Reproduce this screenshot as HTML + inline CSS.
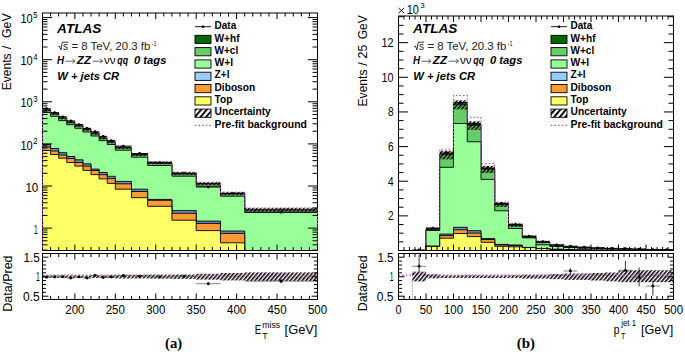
<!DOCTYPE html>
<html><head><meta charset="utf-8"><style>html,body{margin:0;padding:0;background:#fff;width:685px;height:352px;overflow:hidden}svg{display:block;font-family:"Liberation Sans",sans-serif}</style></head><body><svg width="685" height="352" viewBox="0 0 685 352"><defs><pattern id="hatch" patternUnits="userSpaceOnUse" width="3" height="3" patternTransform="rotate(40)"><rect x="0" y="0" width="1.55" height="3" fill="#000"/></pattern><pattern id="hatchL" patternUnits="userSpaceOnUse" width="4.3" height="4.3" patternTransform="rotate(40)"><rect x="0" y="0" width="1.9" height="4.3" fill="#000"/></pattern></defs><clipPath id="cl"><rect x="42.5" y="13" width="275" height="237.5"/></clipPath><clipPath id="clr"><rect x="42.5" y="253.5" width="275" height="46"/></clipPath><g clip-path="url(#cl)"><path d="M42.5,255.5 L42.5,109.8 L50.59,109.8 L50.59,113.6 L58.68,113.6 L58.68,117.9 L66.76,117.9 L66.76,122 L74.85,122 L74.85,125.6 L82.94,125.6 L82.94,129.3 L91.03,129.3 L91.03,133.3 L99.12,133.3 L99.12,137.9 L107.21,137.9 L107.21,141.8 L115.29,141.8 L115.29,147.5 L131.47,147.5 L131.47,154.5 L147.65,154.5 L147.65,162.8 L171.91,162.8 L171.91,173.5 L196.18,173.5 L196.18,183.5 L220.44,183.5 L220.44,193.5 L244.71,193.5 L244.71,209.7 L317.5,209.7 L317.5,255.5 Z" fill="#006600" stroke="#000" stroke-width="0.7"/><path d="M42.5,255.5 L42.5,110.2 L50.59,110.2 L50.59,114 L58.68,114 L58.68,118.3 L66.76,118.3 L66.76,122.4 L74.85,122.4 L74.85,126 L82.94,126 L82.94,129.7 L91.03,129.7 L91.03,133.7 L99.12,133.7 L99.12,138.3 L107.21,138.3 L107.21,142.2 L115.29,142.2 L115.29,147.9 L131.47,147.9 L131.47,154.9 L147.65,154.9 L147.65,163.2 L171.91,163.2 L171.91,173.9 L196.18,173.9 L196.18,183.9 L220.44,183.9 L220.44,193.9 L244.71,193.9 L244.71,210.1 L317.5,210.1 L317.5,255.5 Z" fill="#66CC66" stroke="#000" stroke-width="0.6"/><path d="M42.5,255.5 L42.5,112.5 L50.59,112.5 L50.59,116.3 L58.68,116.3 L58.68,120.6 L66.76,120.6 L66.76,124.7 L74.85,124.7 L74.85,128.3 L82.94,128.3 L82.94,132 L91.03,132 L91.03,136 L99.12,136 L99.12,140.6 L107.21,140.6 L107.21,144.5 L115.29,144.5 L115.29,150.2 L131.47,150.2 L131.47,157.2 L147.65,157.2 L147.65,165.5 L171.91,165.5 L171.91,176.2 L196.18,176.2 L196.18,186.2 L220.44,186.2 L220.44,196.2 L244.71,196.2 L244.71,212.4 L317.5,212.4 L317.5,255.5 Z" fill="#99FF99" stroke="#000" stroke-width="0.9"/><path d="M42.5,255.5 L42.5,144.5 L50.59,144.5 L50.59,148.5 L58.68,148.5 L58.68,152.7 L66.76,152.7 L66.76,156.5 L74.85,156.5 L74.85,159.8 L82.94,159.8 L82.94,163.8 L91.03,163.8 L91.03,169.1 L99.12,169.1 L99.12,172.5 L107.21,172.5 L107.21,176.3 L115.29,176.3 L115.29,181.4 L131.47,181.4 L131.47,189.2 L147.65,189.2 L147.65,199.4 L171.91,199.4 L171.91,210.6 L196.18,210.6 L196.18,221.1 L220.44,221.1 L220.44,231 L244.71,231 L244.71,262 L317.5,262 L317.5,255.5 Z" fill="#6A90C6" stroke="#000" stroke-width="0.9"/><path d="M42.5,255.5 L42.5,147 L50.59,147 L50.59,151 L58.68,151 L58.68,155 L66.76,155 L66.76,158.5 L74.85,158.5 L74.85,162.4 L82.94,162.4 L82.94,166.1 L91.03,166.1 L91.03,170.5 L99.12,170.5 L99.12,174.7 L107.21,174.7 L107.21,178.6 L115.29,178.6 L115.29,183.8 L131.47,183.8 L131.47,191.5 L147.65,191.5 L147.65,200.3 L171.91,200.3 L171.91,213.3 L196.18,213.3 L196.18,223.4 L220.44,223.4 L220.44,233.4 L244.71,233.4 L244.71,263 L317.5,263 L317.5,255.5 Z" fill="#FF9933" stroke="#000" stroke-width="0.9"/><path d="M42.5,255.5 L42.5,150.5 L50.59,150.5 L50.59,154.5 L58.68,154.5 L58.68,158.2 L66.76,158.2 L66.76,162.5 L74.85,162.5 L74.85,166.1 L82.94,166.1 L82.94,170.4 L91.03,170.4 L91.03,174.6 L99.12,174.6 L99.12,178.9 L107.21,178.9 L107.21,183.4 L115.29,183.4 L115.29,189.2 L131.47,189.2 L131.47,197.7 L147.65,197.7 L147.65,206.3 L171.91,206.3 L171.91,220.2 L196.18,220.2 L196.18,230.6 L220.44,230.6 L220.44,242.8 L244.71,242.8 L244.71,264 L317.5,264 L317.5,255.5 Z" fill="#FFFF66" stroke="#000" stroke-width="0.9"/><rect x="42.5" y="108.3" width="8.09" height="3" fill="url(#hatch)"/><rect x="50.59" y="112.1" width="8.09" height="3" fill="url(#hatch)"/><rect x="58.68" y="116.4" width="8.09" height="3" fill="url(#hatch)"/><rect x="66.76" y="120.5" width="8.09" height="3" fill="url(#hatch)"/><rect x="74.85" y="124.1" width="8.09" height="3" fill="url(#hatch)"/><rect x="82.94" y="127.8" width="8.09" height="3" fill="url(#hatch)"/><rect x="91.03" y="131.8" width="8.09" height="3" fill="url(#hatch)"/><rect x="99.12" y="136.4" width="8.09" height="3" fill="url(#hatch)"/><rect x="107.21" y="140.3" width="8.09" height="3" fill="url(#hatch)"/><rect x="115.29" y="146" width="16.18" height="3" fill="url(#hatch)"/><rect x="131.47" y="153" width="16.18" height="3" fill="url(#hatch)"/><rect x="147.65" y="161.3" width="24.26" height="3" fill="url(#hatch)"/><rect x="171.91" y="171.8" width="24.26" height="3.4" fill="url(#hatch)"/><rect x="196.18" y="181.8" width="24.26" height="3.4" fill="url(#hatch)"/><rect x="220.44" y="191.8" width="24.26" height="3.4" fill="url(#hatch)"/><rect x="244.71" y="207.7" width="72.79" height="4" fill="url(#hatch)"/><path d="M42.5,255.5 L42.5,108.8 L50.59,108.8 L50.59,112.6 L58.68,112.6 L58.68,116.9 L66.76,116.9 L66.76,121 L74.85,121 L74.85,124.6 L82.94,124.6 L82.94,128.3 L91.03,128.3 L91.03,132.3 L99.12,132.3 L99.12,136.9 L107.21,136.9 L107.21,140.8 L115.29,140.8 L115.29,146.5 L131.47,146.5 L131.47,153.5 L147.65,153.5 L147.65,161.8 L171.91,161.8 L171.91,172.5 L196.18,172.5 L196.18,182.5 L220.44,182.5 L220.44,192.5 L244.71,192.5 L244.71,208.7 L317.5,208.7 L317.5,255.5" fill="none" stroke="#C040C0" stroke-width="1.1" stroke-dasharray="1.5,2.1"/><line x1="42.5" y1="108.8" x2="50.59" y2="108.8" stroke="#000" stroke-width="0.9"/><line x1="46.54" y1="108.5" x2="46.54" y2="109.1" stroke="#000" stroke-width="0.9"/><circle cx="46.54" cy="108.8" r="1.45" fill="#000"/><line x1="50.59" y1="112.6" x2="58.68" y2="112.6" stroke="#000" stroke-width="0.9"/><line x1="54.63" y1="112.3" x2="54.63" y2="112.9" stroke="#000" stroke-width="0.9"/><circle cx="54.63" cy="112.6" r="1.45" fill="#000"/><line x1="58.68" y1="116.9" x2="66.76" y2="116.9" stroke="#000" stroke-width="0.9"/><line x1="62.72" y1="116.6" x2="62.72" y2="117.2" stroke="#000" stroke-width="0.9"/><circle cx="62.72" cy="116.9" r="1.45" fill="#000"/><line x1="66.76" y1="121" x2="74.85" y2="121" stroke="#000" stroke-width="0.9"/><line x1="70.81" y1="120.7" x2="70.81" y2="121.3" stroke="#000" stroke-width="0.9"/><circle cx="70.81" cy="121" r="1.45" fill="#000"/><line x1="74.85" y1="124.6" x2="82.94" y2="124.6" stroke="#000" stroke-width="0.9"/><line x1="78.9" y1="124.3" x2="78.9" y2="124.9" stroke="#000" stroke-width="0.9"/><circle cx="78.9" cy="124.6" r="1.45" fill="#000"/><line x1="82.94" y1="128.5" x2="91.03" y2="128.5" stroke="#000" stroke-width="0.9"/><line x1="86.99" y1="128.2" x2="86.99" y2="128.8" stroke="#000" stroke-width="0.9"/><circle cx="86.99" cy="128.5" r="1.45" fill="#000"/><line x1="91.03" y1="131.8" x2="99.12" y2="131.8" stroke="#000" stroke-width="0.9"/><line x1="95.07" y1="131.5" x2="95.07" y2="132.1" stroke="#000" stroke-width="0.9"/><circle cx="95.07" cy="131.8" r="1.45" fill="#000"/><line x1="99.12" y1="136.4" x2="107.21" y2="136.4" stroke="#000" stroke-width="0.9"/><line x1="103.16" y1="136.1" x2="103.16" y2="136.7" stroke="#000" stroke-width="0.9"/><circle cx="103.16" cy="136.4" r="1.45" fill="#000"/><line x1="107.21" y1="140.6" x2="115.29" y2="140.6" stroke="#000" stroke-width="0.9"/><line x1="111.25" y1="140.3" x2="111.25" y2="140.9" stroke="#000" stroke-width="0.9"/><circle cx="111.25" cy="140.6" r="1.45" fill="#000"/><line x1="115.29" y1="146.1" x2="131.47" y2="146.1" stroke="#000" stroke-width="0.9"/><line x1="123.38" y1="145.8" x2="123.38" y2="146.4" stroke="#000" stroke-width="0.9"/><circle cx="123.38" cy="146.1" r="1.45" fill="#000"/><line x1="131.47" y1="153.5" x2="147.65" y2="153.5" stroke="#000" stroke-width="0.9"/><line x1="139.56" y1="153.2" x2="139.56" y2="153.8" stroke="#000" stroke-width="0.9"/><circle cx="139.56" cy="153.5" r="1.45" fill="#000"/><line x1="147.65" y1="162.8" x2="171.91" y2="162.8" stroke="#000" stroke-width="0.9"/><line x1="159.78" y1="162.5" x2="159.78" y2="163.1" stroke="#000" stroke-width="0.9"/><circle cx="159.78" cy="162.8" r="1.45" fill="#000"/><line x1="171.91" y1="173.2" x2="196.18" y2="173.2" stroke="#000" stroke-width="0.9"/><line x1="184.04" y1="172.9" x2="184.04" y2="173.5" stroke="#000" stroke-width="0.9"/><circle cx="184.04" cy="173.2" r="1.45" fill="#000"/><line x1="196.18" y1="187.1" x2="220.44" y2="187.1" stroke="#000" stroke-width="0.9"/><line x1="208.31" y1="186.8" x2="208.31" y2="187.4" stroke="#000" stroke-width="0.9"/><circle cx="208.31" cy="187.1" r="1.45" fill="#000"/><line x1="220.44" y1="193.4" x2="244.71" y2="193.4" stroke="#000" stroke-width="0.9"/><line x1="232.57" y1="193.1" x2="232.57" y2="193.7" stroke="#000" stroke-width="0.9"/><circle cx="232.57" cy="193.4" r="1.45" fill="#000"/><line x1="244.71" y1="212.3" x2="317.5" y2="212.3" stroke="#000" stroke-width="0.9"/><line x1="281.1" y1="212" x2="281.1" y2="212.6" stroke="#000" stroke-width="0.9"/><circle cx="281.1" cy="212.3" r="1.45" fill="#000"/></g><g clip-path="url(#clr)"><rect x="42.5" y="275.45" width="8.09" height="2.5" fill="url(#hatch)"/><rect x="50.59" y="275.45" width="8.09" height="2.5" fill="url(#hatch)"/><rect x="58.68" y="275.45" width="8.09" height="2.5" fill="url(#hatch)"/><rect x="66.76" y="275.45" width="8.09" height="2.5" fill="url(#hatch)"/><rect x="74.85" y="275.45" width="8.09" height="2.5" fill="url(#hatch)"/><rect x="82.94" y="275.45" width="8.09" height="2.5" fill="url(#hatch)"/><rect x="91.03" y="275.45" width="8.09" height="2.5" fill="url(#hatch)"/><rect x="99.12" y="275.45" width="8.09" height="2.5" fill="url(#hatch)"/><rect x="107.21" y="275.45" width="8.09" height="2.5" fill="url(#hatch)"/><rect x="115.29" y="274.94" width="16.18" height="3.51" fill="url(#hatch)"/><rect x="131.47" y="274.94" width="16.18" height="3.51" fill="url(#hatch)"/><rect x="147.65" y="274.75" width="24.26" height="3.9" fill="url(#hatch)"/><rect x="171.91" y="274.56" width="24.26" height="4.29" fill="url(#hatch)"/><rect x="196.18" y="273.77" width="24.26" height="5.85" fill="url(#hatch)"/><rect x="220.44" y="273" width="24.26" height="7.41" fill="url(#hatch)"/><rect x="244.71" y="272.41" width="72.79" height="8.58" fill="url(#hatch)"/><path d="M42.5,275 L50.59,275 L50.59,275 L58.68,275 L58.68,275 L66.76,275 L66.76,275 L74.85,275 L74.85,275 L82.94,275 L82.94,275 L91.03,275 L91.03,275 L99.12,275 L99.12,275 L107.21,275 L107.21,275 L115.29,275 L115.29,275 L131.47,275 L131.47,275 L147.65,275 L147.65,275 L171.91,275 L171.91,276 L196.18,276 L196.18,276 L220.44,276 L220.44,276 L244.71,276 L244.71,276 L317.5,276" fill="none" stroke="#C040C0" stroke-width="1.1" stroke-dasharray="1.5,2.1"/><line x1="42.5" y1="277.3" x2="50.59" y2="277.3" stroke="#666" stroke-width="0.8"/><line x1="46.54" y1="276.7" x2="46.54" y2="277.9" stroke="#222" stroke-width="0.9"/><circle cx="46.54" cy="277.3" r="1.45" fill="#000"/><line x1="50.59" y1="277" x2="58.68" y2="277" stroke="#666" stroke-width="0.8"/><line x1="54.63" y1="276.4" x2="54.63" y2="277.6" stroke="#222" stroke-width="0.9"/><circle cx="54.63" cy="277" r="1.45" fill="#000"/><line x1="58.68" y1="276.8" x2="66.76" y2="276.8" stroke="#666" stroke-width="0.8"/><line x1="62.72" y1="276.2" x2="62.72" y2="277.4" stroke="#222" stroke-width="0.9"/><circle cx="62.72" cy="276.8" r="1.45" fill="#000"/><line x1="66.76" y1="278.1" x2="74.85" y2="278.1" stroke="#666" stroke-width="0.8"/><line x1="70.81" y1="277.5" x2="70.81" y2="278.7" stroke="#222" stroke-width="0.9"/><circle cx="70.81" cy="278.1" r="1.45" fill="#000"/><line x1="74.85" y1="276.9" x2="82.94" y2="276.9" stroke="#666" stroke-width="0.8"/><line x1="78.9" y1="276.3" x2="78.9" y2="277.5" stroke="#222" stroke-width="0.9"/><circle cx="78.9" cy="276.9" r="1.45" fill="#000"/><line x1="82.94" y1="278.1" x2="91.03" y2="278.1" stroke="#666" stroke-width="0.8"/><line x1="86.99" y1="277.5" x2="86.99" y2="278.7" stroke="#222" stroke-width="0.9"/><circle cx="86.99" cy="278.1" r="1.45" fill="#000"/><line x1="91.03" y1="275.4" x2="99.12" y2="275.4" stroke="#666" stroke-width="0.8"/><line x1="95.07" y1="274.6" x2="95.07" y2="276.2" stroke="#222" stroke-width="0.9"/><circle cx="95.07" cy="275.4" r="1.45" fill="#000"/><line x1="99.12" y1="277.5" x2="107.21" y2="277.5" stroke="#666" stroke-width="0.8"/><line x1="103.16" y1="276.7" x2="103.16" y2="278.3" stroke="#222" stroke-width="0.9"/><circle cx="103.16" cy="277.5" r="1.45" fill="#000"/><line x1="107.21" y1="277" x2="115.29" y2="277" stroke="#666" stroke-width="0.8"/><line x1="111.25" y1="276.2" x2="111.25" y2="277.8" stroke="#222" stroke-width="0.9"/><circle cx="111.25" cy="277" r="1.45" fill="#000"/><line x1="115.29" y1="275.5" x2="131.47" y2="275.5" stroke="#666" stroke-width="0.8"/><line x1="123.38" y1="274.7" x2="123.38" y2="276.3" stroke="#222" stroke-width="0.9"/><circle cx="123.38" cy="275.5" r="1.45" fill="#000"/><line x1="131.47" y1="276.5" x2="147.65" y2="276.5" stroke="#666" stroke-width="0.8"/><line x1="139.56" y1="275.5" x2="139.56" y2="277.5" stroke="#222" stroke-width="0.9"/><circle cx="139.56" cy="276.5" r="1.45" fill="#000"/><line x1="147.65" y1="276.9" x2="171.91" y2="276.9" stroke="#666" stroke-width="0.8"/><line x1="159.78" y1="275.9" x2="159.78" y2="277.9" stroke="#222" stroke-width="0.9"/><circle cx="159.78" cy="276.9" r="1.45" fill="#000"/><line x1="171.91" y1="276.5" x2="196.18" y2="276.5" stroke="#666" stroke-width="0.8"/><line x1="184.04" y1="275" x2="184.04" y2="278" stroke="#222" stroke-width="0.9"/><circle cx="184.04" cy="276.5" r="1.45" fill="#000"/><line x1="196.18" y1="283.7" x2="220.44" y2="283.7" stroke="#666" stroke-width="0.8"/><line x1="208.31" y1="282.2" x2="208.31" y2="285.2" stroke="#222" stroke-width="0.9"/><circle cx="208.31" cy="283.7" r="1.45" fill="#000"/><line x1="244.71" y1="281.2" x2="317.5" y2="281.2" stroke="#666" stroke-width="0.8"/><line x1="281.1" y1="279.2" x2="281.1" y2="283.2" stroke="#222" stroke-width="0.9"/><circle cx="281.1" cy="281.2" r="1.45" fill="#000"/></g><rect x="42.5" y="13" width="275" height="237.5" fill="none" stroke="#000" stroke-width="1"/><rect x="42.5" y="253.5" width="275" height="46" fill="none" stroke="#000" stroke-width="1"/><line x1="42.5" y1="108.8" x2="42.5" y2="250.5" stroke="#C040C0" stroke-width="1.1" stroke-dasharray="1.5,2.1"/><line x1="317.5" y1="208.7" x2="317.5" y2="250.5" stroke="#C040C0" stroke-width="1.1" stroke-dasharray="1.5,2.1"/><path d="M42.5,13 V16.5 M42.5,250.5 V247 M42.5,253.5 V257 M42.5,299.5 V296 M50.59,13 V16.5 M50.59,250.5 V247 M50.59,253.5 V257 M50.59,299.5 V296 M58.68,13 V16.5 M58.68,250.5 V247 M58.68,253.5 V257 M58.68,299.5 V296 M66.76,13 V16.5 M66.76,250.5 V247 M66.76,253.5 V257 M66.76,299.5 V296 M74.85,13 V19 M74.85,250.5 V244.5 M74.85,253.5 V259.5 M74.85,299.5 V293.5 M82.94,13 V16.5 M82.94,250.5 V247 M82.94,253.5 V257 M82.94,299.5 V296 M91.03,13 V16.5 M91.03,250.5 V247 M91.03,253.5 V257 M91.03,299.5 V296 M99.12,13 V16.5 M99.12,250.5 V247 M99.12,253.5 V257 M99.12,299.5 V296 M107.21,13 V16.5 M107.21,250.5 V247 M107.21,253.5 V257 M107.21,299.5 V296 M115.29,13 V19 M115.29,250.5 V244.5 M115.29,253.5 V259.5 M115.29,299.5 V293.5 M123.38,13 V16.5 M123.38,250.5 V247 M123.38,253.5 V257 M123.38,299.5 V296 M131.47,13 V16.5 M131.47,250.5 V247 M131.47,253.5 V257 M131.47,299.5 V296 M139.56,13 V16.5 M139.56,250.5 V247 M139.56,253.5 V257 M139.56,299.5 V296 M147.65,13 V16.5 M147.65,250.5 V247 M147.65,253.5 V257 M147.65,299.5 V296 M155.74,13 V19 M155.74,250.5 V244.5 M155.74,253.5 V259.5 M155.74,299.5 V293.5 M163.82,13 V16.5 M163.82,250.5 V247 M163.82,253.5 V257 M163.82,299.5 V296 M171.91,13 V16.5 M171.91,250.5 V247 M171.91,253.5 V257 M171.91,299.5 V296 M180,13 V16.5 M180,250.5 V247 M180,253.5 V257 M180,299.5 V296 M188.09,13 V16.5 M188.09,250.5 V247 M188.09,253.5 V257 M188.09,299.5 V296 M196.18,13 V19 M196.18,250.5 V244.5 M196.18,253.5 V259.5 M196.18,299.5 V293.5 M204.26,13 V16.5 M204.26,250.5 V247 M204.26,253.5 V257 M204.26,299.5 V296 M212.35,13 V16.5 M212.35,250.5 V247 M212.35,253.5 V257 M212.35,299.5 V296 M220.44,13 V16.5 M220.44,250.5 V247 M220.44,253.5 V257 M220.44,299.5 V296 M228.53,13 V16.5 M228.53,250.5 V247 M228.53,253.5 V257 M228.53,299.5 V296 M236.62,13 V19 M236.62,250.5 V244.5 M236.62,253.5 V259.5 M236.62,299.5 V293.5 M244.71,13 V16.5 M244.71,250.5 V247 M244.71,253.5 V257 M244.71,299.5 V296 M252.79,13 V16.5 M252.79,250.5 V247 M252.79,253.5 V257 M252.79,299.5 V296 M260.88,13 V16.5 M260.88,250.5 V247 M260.88,253.5 V257 M260.88,299.5 V296 M268.97,13 V16.5 M268.97,250.5 V247 M268.97,253.5 V257 M268.97,299.5 V296 M277.06,13 V19 M277.06,250.5 V244.5 M277.06,253.5 V259.5 M277.06,299.5 V293.5 M285.15,13 V16.5 M285.15,250.5 V247 M285.15,253.5 V257 M285.15,299.5 V296 M293.24,13 V16.5 M293.24,250.5 V247 M293.24,253.5 V257 M293.24,299.5 V296 M301.32,13 V16.5 M301.32,250.5 V247 M301.32,253.5 V257 M301.32,299.5 V296 M309.41,13 V16.5 M309.41,250.5 V247 M309.41,253.5 V257 M309.41,299.5 V296 M317.5,13 V19 M317.5,250.5 V244.5 M317.5,253.5 V259.5 M317.5,299.5 V293.5 M42.5,250.11 H47.5 M317.5,250.11 H312.5 M42.5,244.85 H47.5 M317.5,244.85 H312.5 M42.5,240.77 H47.5 M317.5,240.77 H312.5 M42.5,237.44 H47.5 M317.5,237.44 H312.5 M42.5,234.62 H47.5 M317.5,234.62 H312.5 M42.5,232.18 H47.5 M317.5,232.18 H312.5 M42.5,230.03 H47.5 M317.5,230.03 H312.5 M42.5,228.1 H52.1 M317.5,228.1 H307.9 M42.5,215.43 H47.5 M317.5,215.43 H312.5 M42.5,208.01 H47.5 M317.5,208.01 H312.5 M42.5,202.75 H47.5 M317.5,202.75 H312.5 M42.5,198.67 H47.5 M317.5,198.67 H312.5 M42.5,195.34 H47.5 M317.5,195.34 H312.5 M42.5,192.52 H47.5 M317.5,192.52 H312.5 M42.5,190.08 H47.5 M317.5,190.08 H312.5 M42.5,187.93 H47.5 M317.5,187.93 H312.5 M42.5,186 H52.1 M317.5,186 H307.9 M42.5,173.33 H47.5 M317.5,173.33 H312.5 M42.5,165.91 H47.5 M317.5,165.91 H312.5 M42.5,160.65 H47.5 M317.5,160.65 H312.5 M42.5,156.57 H47.5 M317.5,156.57 H312.5 M42.5,153.24 H47.5 M317.5,153.24 H312.5 M42.5,150.42 H47.5 M317.5,150.42 H312.5 M42.5,147.98 H47.5 M317.5,147.98 H312.5 M42.5,145.83 H47.5 M317.5,145.83 H312.5 M42.5,143.9 H52.1 M317.5,143.9 H307.9 M42.5,131.23 H47.5 M317.5,131.23 H312.5 M42.5,123.81 H47.5 M317.5,123.81 H312.5 M42.5,118.55 H47.5 M317.5,118.55 H312.5 M42.5,114.47 H47.5 M317.5,114.47 H312.5 M42.5,111.14 H47.5 M317.5,111.14 H312.5 M42.5,108.32 H47.5 M317.5,108.32 H312.5 M42.5,105.88 H47.5 M317.5,105.88 H312.5 M42.5,103.73 H47.5 M317.5,103.73 H312.5 M42.5,101.8 H52.1 M317.5,101.8 H307.9 M42.5,89.13 H47.5 M317.5,89.13 H312.5 M42.5,81.71 H47.5 M317.5,81.71 H312.5 M42.5,76.45 H47.5 M317.5,76.45 H312.5 M42.5,72.37 H47.5 M317.5,72.37 H312.5 M42.5,69.04 H47.5 M317.5,69.04 H312.5 M42.5,66.22 H47.5 M317.5,66.22 H312.5 M42.5,63.78 H47.5 M317.5,63.78 H312.5 M42.5,61.63 H47.5 M317.5,61.63 H312.5 M42.5,59.7 H52.1 M317.5,59.7 H307.9 M42.5,47.03 H47.5 M317.5,47.03 H312.5 M42.5,39.61 H47.5 M317.5,39.61 H312.5 M42.5,34.35 H47.5 M317.5,34.35 H312.5 M42.5,30.27 H47.5 M317.5,30.27 H312.5 M42.5,26.94 H47.5 M317.5,26.94 H312.5 M42.5,24.12 H47.5 M317.5,24.12 H312.5 M42.5,21.68 H47.5 M317.5,21.68 H312.5 M42.5,19.53 H47.5 M317.5,19.53 H312.5 M42.5,17.6 H52.1 M317.5,17.6 H307.9 M42.5,296.2 H48.5 M317.5,296.2 H311.5 M42.5,292.3 H46 M317.5,292.3 H314 M42.5,288.4 H46 M317.5,288.4 H314 M42.5,284.5 H46 M317.5,284.5 H314 M42.5,280.6 H46 M317.5,280.6 H314 M42.5,276.7 H48.5 M317.5,276.7 H311.5 M42.5,272.8 H46 M317.5,272.8 H314 M42.5,268.9 H46 M317.5,268.9 H314 M42.5,265 H46 M317.5,265 H314 M42.5,261.1 H46 M317.5,261.1 H314 M42.5,257.2 H48.5 M317.5,257.2 H311.5" stroke="#000" stroke-width="1" fill="none"/><clipPath id="cr"><rect x="398.5" y="16" width="275" height="234.5"/></clipPath><clipPath id="crr"><rect x="398.5" y="253.5" width="275" height="46"/></clipPath><g clip-path="url(#cr)"><path d="M398.5,255.5 L398.5,262 L412.25,262 L412.25,250.3 L426,250.3 L426,228.8 L439.75,228.8 L439.75,153.9 L453.5,153.9 L453.5,103.7 L467.25,103.7 L467.25,124.5 L481,124.5 L481,168.5 L494.75,168.5 L494.75,204 L508.5,204 L508.5,224.8 L522.25,224.8 L522.25,236.5 L536,236.5 L536,241.8 L549.75,241.8 L549.75,245.2 L563.5,245.2 L563.5,246.6 L577.25,246.6 L577.25,247.4 L591,247.4 L591,248 L604.75,248 L604.75,248.5 L618.5,248.5 L618.5,248.9 L632.25,248.9 L632.25,249.2 L646,249.2 L646,249.5 L659.75,249.5 L659.75,249.7 L673.5,249.7 L673.5,255.5 Z" fill="#006600" stroke="#000" stroke-width="0.7"/><path d="M398.5,255.5 L398.5,262 L412.25,262 L412.25,250.6 L426,250.6 L426,229.3 L439.75,229.3 L439.75,154.8 L453.5,154.8 L453.5,104.6 L467.25,104.6 L467.25,125.4 L481,125.4 L481,169.3 L494.75,169.3 L494.75,204.7 L508.5,204.7 L508.5,225.4 L522.25,225.4 L522.25,237 L536,237 L536,242.4 L549.75,242.4 L549.75,245.6 L563.5,245.6 L563.5,247 L577.25,247 L577.25,247.8 L591,247.8 L591,248.3 L604.75,248.3 L604.75,248.8 L618.5,248.8 L618.5,249.1 L632.25,249.1 L632.25,249.4 L646,249.4 L646,249.6 L659.75,249.6 L659.75,249.8 L673.5,249.8 L673.5,255.5 Z" fill="#66CC66" stroke="#000" stroke-width="0.6"/><path d="M398.5,255.5 L398.5,262 L412.25,262 L412.25,251 L426,251 L426,230.5 L439.75,230.5 L439.75,167.3 L453.5,167.3 L453.5,123.5 L467.25,123.5 L467.25,141.8 L481,141.8 L481,179.4 L494.75,179.4 L494.75,210.8 L508.5,210.8 L508.5,228.5 L522.25,228.5 L522.25,237.9 L536,237.9 L536,244.8 L549.75,244.8 L549.75,246.5 L563.5,246.5 L563.5,247.5 L577.25,247.5 L577.25,248.2 L591,248.2 L591,248.7 L604.75,248.7 L604.75,249.1 L618.5,249.1 L618.5,249.4 L632.25,249.4 L632.25,249.6 L646,249.6 L646,249.8 L659.75,249.8 L659.75,250 L673.5,250 L673.5,255.5 Z" fill="#99FF99" stroke="#000" stroke-width="0.9"/><path d="M398.5,255.5 L398.5,262 L412.25,262 L412.25,253 L426,253 L426,246.2 L439.75,246.2 L439.75,234.1 L453.5,234.1 L453.5,227.3 L467.25,227.3 L467.25,230.7 L481,230.7 L481,238.6 L494.75,238.6 L494.75,244.4 L508.5,244.4 L508.5,245 L522.25,245 L522.25,247.4 L536,247.4 L536,248.5 L549.75,248.5 L549.75,249.3 L563.5,249.3 L563.5,249.7 L577.25,249.7 L577.25,250 L591,250 L591,250.2 L604.75,250.2 L604.75,250.3 L618.5,250.3 L618.5,250.4 L632.25,250.4 L632.25,250.5 L646,250.5 L646,250.5 L659.75,250.5 L659.75,250.5 L673.5,250.5 L673.5,255.5 Z" fill="#6A90C6" stroke="#000" stroke-width="0.9"/><path d="M398.5,255.5 L398.5,262 L412.25,262 L412.25,253 L426,253 L426,246.3 L439.75,246.3 L439.75,235.6 L453.5,235.6 L453.5,229.8 L467.25,229.8 L467.25,233.1 L481,233.1 L481,239.5 L494.75,239.5 L494.75,245 L508.5,245 L508.5,245.5 L522.25,245.5 L522.25,247.5 L536,247.5 L536,248.6 L549.75,248.6 L549.75,249.4 L563.5,249.4 L563.5,249.8 L577.25,249.8 L577.25,250.1 L591,250.1 L591,250.3 L604.75,250.3 L604.75,250.4 L618.5,250.4 L618.5,250.5 L632.25,250.5 L632.25,250.5 L646,250.5 L646,250.5 L659.75,250.5 L659.75,250.5 L673.5,250.5 L673.5,255.5 Z" fill="#FF9933" stroke="#000" stroke-width="0.9"/><path d="M398.5,255.5 L398.5,262 L412.25,262 L412.25,253 L426,253 L426,246.4 L439.75,246.4 L439.75,238.2 L453.5,238.2 L453.5,233.5 L467.25,233.5 L467.25,236.6 L481,236.6 L481,242.3 L494.75,242.3 L494.75,246.3 L508.5,246.3 L508.5,246.8 L522.25,246.8 L522.25,247.6 L536,247.6 L536,248.6 L549.75,248.6 L549.75,249.5 L563.5,249.5 L563.5,249.9 L577.25,249.9 L577.25,250.2 L591,250.2 L591,250.4 L604.75,250.4 L604.75,250.5 L618.5,250.5 L618.5,250.5 L632.25,250.5 L632.25,250.5 L646,250.5 L646,250.5 L659.75,250.5 L659.75,250.5 L673.5,250.5 L673.5,255.5 Z" fill="#FFFF66" stroke="#000" stroke-width="0.9"/><rect x="412.25" y="249.85" width="13.75" height="1.2" fill="url(#hatch)"/><rect x="426" y="227.68" width="13.75" height="3" fill="url(#hatch)"/><rect x="439.75" y="150.6" width="13.75" height="8.8" fill="url(#hatch)"/><rect x="453.5" y="100.25" width="13.75" height="9.2" fill="url(#hatch)"/><rect x="467.25" y="121.28" width="13.75" height="8.6" fill="url(#hatch)"/><rect x="481" y="165.8" width="13.75" height="7.2" fill="url(#hatch)"/><rect x="494.75" y="202.2" width="13.75" height="4.8" fill="url(#hatch)"/><rect x="508.5" y="223.53" width="13.75" height="3.4" fill="url(#hatch)"/><rect x="522.25" y="235.6" width="13.75" height="2.4" fill="url(#hatch)"/><rect x="536" y="241.05" width="13.75" height="2" fill="url(#hatch)"/><rect x="549.75" y="244.6" width="13.75" height="1.6" fill="url(#hatch)"/><rect x="563.5" y="246.15" width="13.75" height="1.2" fill="url(#hatch)"/><rect x="577.25" y="247.03" width="13.75" height="1" fill="url(#hatch)"/><rect x="591" y="247.7" width="13.75" height="0.8" fill="url(#hatch)"/><rect x="604.75" y="248.2" width="13.75" height="0.8" fill="url(#hatch)"/><rect x="618.5" y="248.67" width="13.75" height="0.6" fill="url(#hatch)"/><rect x="632.25" y="248.97" width="13.75" height="0.6" fill="url(#hatch)"/><rect x="646" y="249.27" width="13.75" height="0.6" fill="url(#hatch)"/><rect x="659.75" y="249.47" width="13.75" height="0.6" fill="url(#hatch)"/><path d="M398.5,255.5 L398.5,262 L412.25,262 L412.25,250.8 L426,250.8 L426,227.6 L439.75,227.6 L439.75,149.3 L453.5,149.3 L453.5,95.5 L467.25,95.5 L467.25,117.3 L481,117.3 L481,163.5 L494.75,163.5 L494.75,202.3 L508.5,202.3 L508.5,223.4 L522.25,223.4 L522.25,235.5 L536,235.5 L536,241.1 L549.75,241.1 L549.75,244.5 L563.5,244.5 L563.5,246 L577.25,246 L577.25,247 L591,247 L591,247.7 L604.75,247.7 L604.75,248.3 L618.5,248.3 L618.5,248.7 L632.25,248.7 L632.25,249 L646,249 L646,249.3 L659.75,249.3 L659.75,249.5 L673.5,249.5 L673.5,255.5" fill="none" stroke="#C040C0" stroke-width="1.1" stroke-dasharray="1.5,2.1"/><line x1="412.25" y1="250" x2="426" y2="250" stroke="#000" stroke-width="0.9"/><circle cx="419.12" cy="250" r="1.45" fill="#000"/><line x1="426" y1="228.3" x2="439.75" y2="228.3" stroke="#000" stroke-width="0.9"/><circle cx="432.88" cy="228.3" r="1.45" fill="#000"/><line x1="439.75" y1="153" x2="453.5" y2="153" stroke="#000" stroke-width="0.9"/><circle cx="446.62" cy="153" r="1.45" fill="#000"/><line x1="453.5" y1="102.5" x2="467.25" y2="102.5" stroke="#000" stroke-width="0.9"/><circle cx="460.38" cy="102.5" r="1.45" fill="#000"/><line x1="467.25" y1="123.5" x2="481" y2="123.5" stroke="#000" stroke-width="0.9"/><circle cx="474.12" cy="123.5" r="1.45" fill="#000"/><line x1="481" y1="168" x2="494.75" y2="168" stroke="#000" stroke-width="0.9"/><circle cx="487.88" cy="168" r="1.45" fill="#000"/><line x1="494.75" y1="203.5" x2="508.5" y2="203.5" stroke="#000" stroke-width="0.9"/><circle cx="501.62" cy="203.5" r="1.45" fill="#000"/><line x1="508.5" y1="224.5" x2="522.25" y2="224.5" stroke="#000" stroke-width="0.9"/><circle cx="515.38" cy="224.5" r="1.45" fill="#000"/><line x1="522.25" y1="236.3" x2="536" y2="236.3" stroke="#000" stroke-width="0.9"/><circle cx="529.12" cy="236.3" r="1.45" fill="#000"/><line x1="536" y1="241.8" x2="549.75" y2="241.8" stroke="#000" stroke-width="0.9"/><circle cx="542.88" cy="241.8" r="1.45" fill="#000"/><line x1="549.75" y1="244.9" x2="563.5" y2="244.9" stroke="#000" stroke-width="0.9"/><circle cx="556.62" cy="244.9" r="1.45" fill="#000"/><line x1="563.5" y1="246.3" x2="577.25" y2="246.3" stroke="#000" stroke-width="0.9"/><circle cx="570.38" cy="246.3" r="1.45" fill="#000"/><line x1="577.25" y1="247.2" x2="591" y2="247.2" stroke="#000" stroke-width="0.9"/><circle cx="584.12" cy="247.2" r="1.45" fill="#000"/><line x1="591" y1="247.9" x2="604.75" y2="247.9" stroke="#000" stroke-width="0.9"/><circle cx="597.88" cy="247.9" r="1.45" fill="#000"/><line x1="604.75" y1="248.4" x2="618.5" y2="248.4" stroke="#000" stroke-width="0.9"/><circle cx="611.62" cy="248.4" r="1.45" fill="#000"/><line x1="618.5" y1="248.7" x2="632.25" y2="248.7" stroke="#000" stroke-width="0.9"/><circle cx="625.38" cy="248.7" r="1.45" fill="#000"/><line x1="632.25" y1="249.1" x2="646" y2="249.1" stroke="#000" stroke-width="0.9"/><circle cx="639.12" cy="249.1" r="1.45" fill="#000"/><line x1="646" y1="249.6" x2="659.75" y2="249.6" stroke="#000" stroke-width="0.9"/><circle cx="652.88" cy="249.6" r="1.45" fill="#000"/><line x1="659.75" y1="249.7" x2="673.5" y2="249.7" stroke="#000" stroke-width="0.9"/><circle cx="666.62" cy="249.7" r="1.45" fill="#000"/></g><g clip-path="url(#crr)"><rect x="412.25" y="271.7" width="13.75" height="9.7" fill="url(#hatch)"/><rect x="426" y="274.3" width="13.75" height="4" fill="url(#hatch)"/><rect x="439.75" y="275.4" width="13.75" height="2.6" fill="url(#hatch)"/><rect x="453.5" y="275.4" width="13.75" height="2.6" fill="url(#hatch)"/><rect x="467.25" y="275.4" width="13.75" height="2.6" fill="url(#hatch)"/><rect x="481" y="275.4" width="13.75" height="2.6" fill="url(#hatch)"/><rect x="494.75" y="275.4" width="13.75" height="2.6" fill="url(#hatch)"/><rect x="508.5" y="275.4" width="13.75" height="2.6" fill="url(#hatch)"/><rect x="522.25" y="274.8" width="13.75" height="3.8" fill="url(#hatch)"/><rect x="536" y="274.8" width="13.75" height="3.8" fill="url(#hatch)"/><rect x="549.75" y="274.2" width="13.75" height="5" fill="url(#hatch)"/><rect x="563.5" y="273.5" width="13.75" height="6.4" fill="url(#hatch)"/><rect x="577.25" y="273.5" width="13.75" height="6.4" fill="url(#hatch)"/><rect x="591" y="273" width="13.75" height="7.5" fill="url(#hatch)"/><rect x="604.75" y="272.5" width="13.75" height="8.8" fill="url(#hatch)"/><rect x="618.5" y="270.2" width="13.75" height="12" fill="url(#hatch)"/><rect x="632.25" y="270.2" width="13.75" height="12" fill="url(#hatch)"/><rect x="646" y="270.2" width="13.75" height="12" fill="url(#hatch)"/><rect x="659.75" y="270.2" width="13.75" height="12" fill="url(#hatch)"/><path d="M398.5,275.14 L412.25,275.14 L412.25,272.2 L426,272.2 L426,275.14 L439.75,275.14 L439.75,275.14 L453.5,275.14 L453.5,275.14 L467.25,275.14 L467.25,275.14 L481,275.14 L481,275.14 L494.75,275.14 L494.75,275.14 L508.5,275.14 L508.5,275.14 L522.25,275.14 L522.25,275.14 L536,275.14 L536,275.14 L549.75,275.14 L549.75,275.14 L563.5,275.14 L563.5,275.14 L577.25,275.14 L577.25,275.14 L591,275.14 L591,275.14 L604.75,275.14 L604.75,275.14 L618.5,275.14 L618.5,275.14 L632.25,275.14 L632.25,275.14 L646,275.14 L646,275.14 L659.75,275.14 L659.75,275.14 L673.5,275.14" fill="none" stroke="#C040C0" stroke-width="1.1" stroke-dasharray="1.5,2.1"/><line x1="412.25" y1="266.3" x2="426" y2="266.3" stroke="#666" stroke-width="0.8"/><line x1="419.12" y1="254.3" x2="419.12" y2="272.2" stroke="#222" stroke-width="0.9"/><circle cx="419.12" cy="266.3" r="1.45" fill="#000"/><line x1="563.5" y1="271" x2="577.25" y2="271" stroke="#666" stroke-width="0.8"/><line x1="570.38" y1="268.3" x2="570.38" y2="273.7" stroke="#222" stroke-width="0.9"/><circle cx="570.38" cy="271" r="1.45" fill="#000"/><line x1="618.5" y1="270.4" x2="632.25" y2="270.4" stroke="#666" stroke-width="0.8"/><line x1="625.38" y1="260.9" x2="625.38" y2="270.4" stroke="#222" stroke-width="0.9"/><circle cx="625.38" cy="270.4" r="1.45" fill="#000"/><line x1="632.25" y1="277" x2="646" y2="277" stroke="#666" stroke-width="0.8"/><line x1="639.12" y1="267.5" x2="639.12" y2="286.5" stroke="#222" stroke-width="0.9"/><circle cx="639.12" cy="277" r="1.45" fill="#000"/><line x1="646" y1="286" x2="659.75" y2="286" stroke="#666" stroke-width="0.8"/><line x1="652.88" y1="281" x2="652.88" y2="295.6" stroke="#222" stroke-width="0.9"/><circle cx="652.88" cy="286" r="1.45" fill="#000"/></g><rect x="398.5" y="16" width="275" height="234.5" fill="none" stroke="#000" stroke-width="1"/><rect x="398.5" y="253.5" width="275" height="46" fill="none" stroke="#000" stroke-width="1"/><line x1="673.5" y1="249.5" x2="673.5" y2="250.5" stroke="#C040C0" stroke-width="1.1" stroke-dasharray="1.5,2.1"/><path d="M398.5,16 V22 M398.5,250.5 V244.5 M398.5,253.5 V259.5 M398.5,299.5 V293.5 M404,16 V19.5 M404,250.5 V247 M404,253.5 V257 M404,299.5 V296 M409.5,16 V19.5 M409.5,250.5 V247 M409.5,253.5 V257 M409.5,299.5 V296 M415,16 V19.5 M415,250.5 V247 M415,253.5 V257 M415,299.5 V296 M420.5,16 V19.5 M420.5,250.5 V247 M420.5,253.5 V257 M420.5,299.5 V296 M426,16 V22 M426,250.5 V244.5 M426,253.5 V259.5 M426,299.5 V293.5 M431.5,16 V19.5 M431.5,250.5 V247 M431.5,253.5 V257 M431.5,299.5 V296 M437,16 V19.5 M437,250.5 V247 M437,253.5 V257 M437,299.5 V296 M442.5,16 V19.5 M442.5,250.5 V247 M442.5,253.5 V257 M442.5,299.5 V296 M448,16 V19.5 M448,250.5 V247 M448,253.5 V257 M448,299.5 V296 M453.5,16 V22 M453.5,250.5 V244.5 M453.5,253.5 V259.5 M453.5,299.5 V293.5 M459,16 V19.5 M459,250.5 V247 M459,253.5 V257 M459,299.5 V296 M464.5,16 V19.5 M464.5,250.5 V247 M464.5,253.5 V257 M464.5,299.5 V296 M470,16 V19.5 M470,250.5 V247 M470,253.5 V257 M470,299.5 V296 M475.5,16 V19.5 M475.5,250.5 V247 M475.5,253.5 V257 M475.5,299.5 V296 M481,16 V22 M481,250.5 V244.5 M481,253.5 V259.5 M481,299.5 V293.5 M486.5,16 V19.5 M486.5,250.5 V247 M486.5,253.5 V257 M486.5,299.5 V296 M492,16 V19.5 M492,250.5 V247 M492,253.5 V257 M492,299.5 V296 M497.5,16 V19.5 M497.5,250.5 V247 M497.5,253.5 V257 M497.5,299.5 V296 M503,16 V19.5 M503,250.5 V247 M503,253.5 V257 M503,299.5 V296 M508.5,16 V22 M508.5,250.5 V244.5 M508.5,253.5 V259.5 M508.5,299.5 V293.5 M514,16 V19.5 M514,250.5 V247 M514,253.5 V257 M514,299.5 V296 M519.5,16 V19.5 M519.5,250.5 V247 M519.5,253.5 V257 M519.5,299.5 V296 M525,16 V19.5 M525,250.5 V247 M525,253.5 V257 M525,299.5 V296 M530.5,16 V19.5 M530.5,250.5 V247 M530.5,253.5 V257 M530.5,299.5 V296 M536,16 V22 M536,250.5 V244.5 M536,253.5 V259.5 M536,299.5 V293.5 M541.5,16 V19.5 M541.5,250.5 V247 M541.5,253.5 V257 M541.5,299.5 V296 M547,16 V19.5 M547,250.5 V247 M547,253.5 V257 M547,299.5 V296 M552.5,16 V19.5 M552.5,250.5 V247 M552.5,253.5 V257 M552.5,299.5 V296 M558,16 V19.5 M558,250.5 V247 M558,253.5 V257 M558,299.5 V296 M563.5,16 V22 M563.5,250.5 V244.5 M563.5,253.5 V259.5 M563.5,299.5 V293.5 M569,16 V19.5 M569,250.5 V247 M569,253.5 V257 M569,299.5 V296 M574.5,16 V19.5 M574.5,250.5 V247 M574.5,253.5 V257 M574.5,299.5 V296 M580,16 V19.5 M580,250.5 V247 M580,253.5 V257 M580,299.5 V296 M585.5,16 V19.5 M585.5,250.5 V247 M585.5,253.5 V257 M585.5,299.5 V296 M591,16 V22 M591,250.5 V244.5 M591,253.5 V259.5 M591,299.5 V293.5 M596.5,16 V19.5 M596.5,250.5 V247 M596.5,253.5 V257 M596.5,299.5 V296 M602,16 V19.5 M602,250.5 V247 M602,253.5 V257 M602,299.5 V296 M607.5,16 V19.5 M607.5,250.5 V247 M607.5,253.5 V257 M607.5,299.5 V296 M613,16 V19.5 M613,250.5 V247 M613,253.5 V257 M613,299.5 V296 M618.5,16 V22 M618.5,250.5 V244.5 M618.5,253.5 V259.5 M618.5,299.5 V293.5 M624,16 V19.5 M624,250.5 V247 M624,253.5 V257 M624,299.5 V296 M629.5,16 V19.5 M629.5,250.5 V247 M629.5,253.5 V257 M629.5,299.5 V296 M635,16 V19.5 M635,250.5 V247 M635,253.5 V257 M635,299.5 V296 M640.5,16 V19.5 M640.5,250.5 V247 M640.5,253.5 V257 M640.5,299.5 V296 M646,16 V22 M646,250.5 V244.5 M646,253.5 V259.5 M646,299.5 V293.5 M651.5,16 V19.5 M651.5,250.5 V247 M651.5,253.5 V257 M651.5,299.5 V296 M657,16 V19.5 M657,250.5 V247 M657,253.5 V257 M657,299.5 V296 M662.5,16 V19.5 M662.5,250.5 V247 M662.5,253.5 V257 M662.5,299.5 V296 M668,16 V19.5 M668,250.5 V247 M668,253.5 V257 M668,299.5 V296 M673.5,16 V22 M673.5,250.5 V244.5 M673.5,253.5 V259.5 M673.5,299.5 V293.5 M398.5,250.5 H408.1 M673.5,250.5 H663.9 M398.5,241.84 H403.5 M673.5,241.84 H668.5 M398.5,233.18 H403.5 M673.5,233.18 H668.5 M398.5,224.52 H403.5 M673.5,224.52 H668.5 M398.5,215.86 H408.1 M673.5,215.86 H663.9 M398.5,207.2 H403.5 M673.5,207.2 H668.5 M398.5,198.54 H403.5 M673.5,198.54 H668.5 M398.5,189.88 H403.5 M673.5,189.88 H668.5 M398.5,181.22 H408.1 M673.5,181.22 H663.9 M398.5,172.56 H403.5 M673.5,172.56 H668.5 M398.5,163.9 H403.5 M673.5,163.9 H668.5 M398.5,155.24 H403.5 M673.5,155.24 H668.5 M398.5,146.58 H408.1 M673.5,146.58 H663.9 M398.5,137.92 H403.5 M673.5,137.92 H668.5 M398.5,129.26 H403.5 M673.5,129.26 H668.5 M398.5,120.6 H403.5 M673.5,120.6 H668.5 M398.5,111.94 H408.1 M673.5,111.94 H663.9 M398.5,103.28 H403.5 M673.5,103.28 H668.5 M398.5,94.62 H403.5 M673.5,94.62 H668.5 M398.5,85.96 H403.5 M673.5,85.96 H668.5 M398.5,77.3 H408.1 M673.5,77.3 H663.9 M398.5,68.64 H403.5 M673.5,68.64 H668.5 M398.5,59.98 H403.5 M673.5,59.98 H668.5 M398.5,51.32 H403.5 M673.5,51.32 H668.5 M398.5,42.66 H408.1 M673.5,42.66 H663.9 M398.5,34 H403.5 M673.5,34 H668.5 M398.5,25.34 H403.5 M673.5,25.34 H668.5 M398.5,16.68 H403.5 M673.5,16.68 H668.5 M398.5,296.2 H404.5 M673.5,296.2 H667.5 M398.5,292.3 H402 M673.5,292.3 H670 M398.5,288.4 H402 M673.5,288.4 H670 M398.5,284.5 H402 M673.5,284.5 H670 M398.5,280.6 H402 M673.5,280.6 H670 M398.5,276.7 H404.5 M673.5,276.7 H667.5 M398.5,272.8 H402 M673.5,272.8 H670 M398.5,268.9 H402 M673.5,268.9 H670 M398.5,265 H402 M673.5,265 H670 M398.5,261.1 H402 M673.5,261.1 H670 M398.5,257.2 H404.5 M673.5,257.2 H667.5" stroke="#000" stroke-width="1" fill="none"/><text x="33.9" y="233.7" font-family="Liberation Sans" font-size="12.5" font-weight="normal" font-style="normal" fill="#000" textLength="3.71" lengthAdjust="spacingAndGlyphs">1</text><text x="25.4" y="191.6" font-family="Liberation Sans" font-size="12.5" font-weight="normal" font-style="normal" fill="#000" textLength="12.93" lengthAdjust="spacingAndGlyphs">10</text><text x="20.5" y="149.5" font-family="Liberation Sans" font-size="12.5" font-weight="normal" font-style="normal" fill="#000" textLength="12.23" lengthAdjust="spacingAndGlyphs">10</text><text x="33.3" y="144" font-family="Liberation Sans" font-size="8.5" font-weight="normal" font-style="normal" fill="#000" textLength="4.31" lengthAdjust="spacingAndGlyphs">2</text><text x="20.5" y="107.4" font-family="Liberation Sans" font-size="12.5" font-weight="normal" font-style="normal" fill="#000" textLength="12.23" lengthAdjust="spacingAndGlyphs">10</text><text x="33.3" y="101.9" font-family="Liberation Sans" font-size="8.5" font-weight="normal" font-style="normal" fill="#000" textLength="4.31" lengthAdjust="spacingAndGlyphs">3</text><text x="20.5" y="65.3" font-family="Liberation Sans" font-size="12.5" font-weight="normal" font-style="normal" fill="#000" textLength="12.23" lengthAdjust="spacingAndGlyphs">10</text><text x="33.3" y="59.8" font-family="Liberation Sans" font-size="8.5" font-weight="normal" font-style="normal" fill="#000" textLength="4.31" lengthAdjust="spacingAndGlyphs">4</text><text x="20.5" y="23.2" font-family="Liberation Sans" font-size="12.5" font-weight="normal" font-style="normal" fill="#000" textLength="12.23" lengthAdjust="spacingAndGlyphs">10</text><text x="33.3" y="17.7" font-family="Liberation Sans" font-size="8.5" font-weight="normal" font-style="normal" fill="#000" textLength="4.31" lengthAdjust="spacingAndGlyphs">5</text><text x="387.9" y="220.16" font-family="Liberation Sans" font-size="12" font-weight="normal" font-style="normal" fill="#000" textLength="5.61" lengthAdjust="spacingAndGlyphs">2</text><text x="387.9" y="185.52" font-family="Liberation Sans" font-size="12" font-weight="normal" font-style="normal" fill="#000" textLength="5.61" lengthAdjust="spacingAndGlyphs">4</text><text x="387.9" y="150.88" font-family="Liberation Sans" font-size="12" font-weight="normal" font-style="normal" fill="#000" textLength="5.61" lengthAdjust="spacingAndGlyphs">6</text><text x="387.9" y="116.24" font-family="Liberation Sans" font-size="12" font-weight="normal" font-style="normal" fill="#000" textLength="5.61" lengthAdjust="spacingAndGlyphs">8</text><text x="381.5" y="81.6" font-family="Liberation Sans" font-size="12" font-weight="normal" font-style="normal" fill="#000" textLength="12.03" lengthAdjust="spacingAndGlyphs">10</text><text x="381.5" y="46.96" font-family="Liberation Sans" font-size="12" font-weight="normal" font-style="normal" fill="#000" textLength="12.03" lengthAdjust="spacingAndGlyphs">12</text><text x="23.6" y="261.5" font-family="Liberation Sans" font-size="12" font-weight="normal" font-style="normal" fill="#000" textLength="16.2" lengthAdjust="spacingAndGlyphs">1.5</text><text x="36" y="281" font-family="Liberation Sans" font-size="12" font-weight="normal" font-style="normal" fill="#000" textLength="3.81" lengthAdjust="spacingAndGlyphs">1</text><text x="23" y="300.5" font-family="Liberation Sans" font-size="12" font-weight="normal" font-style="normal" fill="#000" textLength="16.8" lengthAdjust="spacingAndGlyphs">0.5</text><text x="377.4" y="261.5" font-family="Liberation Sans" font-size="12" font-weight="normal" font-style="normal" fill="#000" textLength="16.2" lengthAdjust="spacingAndGlyphs">1.5</text><text x="389.8" y="281" font-family="Liberation Sans" font-size="12" font-weight="normal" font-style="normal" fill="#000" textLength="3.81" lengthAdjust="spacingAndGlyphs">1</text><text x="376.8" y="300.5" font-family="Liberation Sans" font-size="12" font-weight="normal" font-style="normal" fill="#000" textLength="16.8" lengthAdjust="spacingAndGlyphs">0.5</text><text x="65.25" y="313.6" font-family="Liberation Sans" font-size="12.4" font-weight="normal" font-style="normal" fill="#000" textLength="19.18" lengthAdjust="spacingAndGlyphs">200</text><text x="105.69" y="313.6" font-family="Liberation Sans" font-size="12.4" font-weight="normal" font-style="normal" fill="#000" textLength="19.18" lengthAdjust="spacingAndGlyphs">250</text><text x="146.14" y="313.6" font-family="Liberation Sans" font-size="12.4" font-weight="normal" font-style="normal" fill="#000" textLength="19.18" lengthAdjust="spacingAndGlyphs">300</text><text x="186.58" y="313.6" font-family="Liberation Sans" font-size="12.4" font-weight="normal" font-style="normal" fill="#000" textLength="19.18" lengthAdjust="spacingAndGlyphs">350</text><text x="227.02" y="313.6" font-family="Liberation Sans" font-size="12.4" font-weight="normal" font-style="normal" fill="#000" textLength="19.18" lengthAdjust="spacingAndGlyphs">400</text><text x="267.46" y="313.6" font-family="Liberation Sans" font-size="12.4" font-weight="normal" font-style="normal" fill="#000" textLength="19.18" lengthAdjust="spacingAndGlyphs">450</text><text x="307.9" y="313.6" font-family="Liberation Sans" font-size="12.4" font-weight="normal" font-style="normal" fill="#000" textLength="19.18" lengthAdjust="spacingAndGlyphs">500</text><text x="395.5" y="313.6" font-family="Liberation Sans" font-size="12.4" font-weight="normal" font-style="normal" fill="#000" textLength="6.01" lengthAdjust="spacingAndGlyphs">0</text><text x="419.7" y="313.6" font-family="Liberation Sans" font-size="12.4" font-weight="normal" font-style="normal" fill="#000" textLength="12.63" lengthAdjust="spacingAndGlyphs">50</text><text x="443.9" y="313.6" font-family="Liberation Sans" font-size="12.4" font-weight="normal" font-style="normal" fill="#000" textLength="19.18" lengthAdjust="spacingAndGlyphs">100</text><text x="471.4" y="313.6" font-family="Liberation Sans" font-size="12.4" font-weight="normal" font-style="normal" fill="#000" textLength="19.18" lengthAdjust="spacingAndGlyphs">150</text><text x="498.9" y="313.6" font-family="Liberation Sans" font-size="12.4" font-weight="normal" font-style="normal" fill="#000" textLength="19.18" lengthAdjust="spacingAndGlyphs">200</text><text x="526.4" y="313.6" font-family="Liberation Sans" font-size="12.4" font-weight="normal" font-style="normal" fill="#000" textLength="19.18" lengthAdjust="spacingAndGlyphs">250</text><text x="553.9" y="313.6" font-family="Liberation Sans" font-size="12.4" font-weight="normal" font-style="normal" fill="#000" textLength="19.18" lengthAdjust="spacingAndGlyphs">300</text><text x="581.4" y="313.6" font-family="Liberation Sans" font-size="12.4" font-weight="normal" font-style="normal" fill="#000" textLength="19.18" lengthAdjust="spacingAndGlyphs">350</text><text x="608.9" y="313.6" font-family="Liberation Sans" font-size="12.4" font-weight="normal" font-style="normal" fill="#000" textLength="19.18" lengthAdjust="spacingAndGlyphs">400</text><text x="636.4" y="313.6" font-family="Liberation Sans" font-size="12.4" font-weight="normal" font-style="normal" fill="#000" textLength="19.18" lengthAdjust="spacingAndGlyphs">450</text><text x="663.9" y="313.6" font-family="Liberation Sans" font-size="12.4" font-weight="normal" font-style="normal" fill="#000" textLength="19.18" lengthAdjust="spacingAndGlyphs">500</text><text transform="translate(11.2,0) rotate(-90)" x="-90.3" y="0" font-family="Liberation Sans" font-size="12.4" font-weight="normal" font-style="normal" fill="#000" textLength="36.83" lengthAdjust="spacingAndGlyphs">Events</text><text transform="translate(11.2,0) rotate(-90)" x="-49.24" y="0" font-family="Liberation Sans" font-size="12.4" font-weight="normal" font-style="normal" fill="#000" textLength="3.44" lengthAdjust="spacingAndGlyphs">/</text><text transform="translate(11.2,0) rotate(-90)" x="-38" y="0" font-family="Liberation Sans" font-size="12.4" font-weight="normal" font-style="normal" fill="#000" textLength="24.61" lengthAdjust="spacingAndGlyphs">GeV</text><text transform="translate(367,0) rotate(-90)" x="-106.5" y="0" font-family="Liberation Sans" font-size="12.4" font-weight="normal" font-style="normal" fill="#000" textLength="37.03" lengthAdjust="spacingAndGlyphs">Events</text><text transform="translate(367,0) rotate(-90)" x="-65.74" y="0" font-family="Liberation Sans" font-size="12.4" font-weight="normal" font-style="normal" fill="#000" textLength="3.44" lengthAdjust="spacingAndGlyphs">/</text><text transform="translate(367,0) rotate(-90)" x="-58.48" y="0" font-family="Liberation Sans" font-size="12.4" font-weight="normal" font-style="normal" fill="#000" textLength="13.79" lengthAdjust="spacingAndGlyphs">25</text><text transform="translate(367,0) rotate(-90)" x="-39.2" y="0" font-family="Liberation Sans" font-size="12.4" font-weight="normal" font-style="normal" fill="#000" textLength="23.91" lengthAdjust="spacingAndGlyphs">GeV</text><text transform="translate(11.6,0) rotate(-90)" x="-311.8" y="0" font-family="Liberation Sans" font-size="12.2" font-weight="normal" font-style="normal" fill="#000" textLength="56.37" lengthAdjust="spacingAndGlyphs">Data/Pred</text><text transform="translate(366.7,0) rotate(-90)" x="-311.3" y="0" font-family="Liberation Sans" font-size="12.2" font-weight="normal" font-style="normal" fill="#000" textLength="55.97" lengthAdjust="spacingAndGlyphs">Data/Pred</text><path d="M398.6,8 L404.2,13.2 M404.2,8 L398.6,13.2" stroke="#000" stroke-width="0.9" fill="none"/><text x="406.7" y="13.6" font-family="Liberation Sans" font-size="12" font-weight="normal" font-style="normal" fill="#000" textLength="12.13" lengthAdjust="spacingAndGlyphs">10</text><text x="420.2" y="7.6" font-family="Liberation Sans" font-size="8" font-weight="normal" font-style="normal" fill="#000" textLength="4.41" lengthAdjust="spacingAndGlyphs">3</text><text x="254.8" y="334.4" font-family="Liberation Sans" font-size="12.8" font-weight="normal" font-style="normal" fill="#000" textLength="6.42" lengthAdjust="spacingAndGlyphs">E</text><text x="262.2" y="338.6" font-family="Liberation Sans" font-size="9.6" font-weight="normal" font-style="normal" fill="#000" textLength="5.41" lengthAdjust="spacingAndGlyphs">T</text><text x="262.3" y="328.2" font-family="Liberation Sans" font-size="9" font-weight="normal" font-style="normal" fill="#000" textLength="17.9" lengthAdjust="spacingAndGlyphs">miss</text><text x="284.6" y="334.4" font-family="Liberation Sans" font-size="12.8" font-weight="normal" font-style="normal" fill="#000" textLength="32.82" lengthAdjust="spacingAndGlyphs">[GeV]</text><text x="613.8" y="334.4" font-family="Liberation Sans" font-size="12.8" font-weight="normal" font-style="normal" fill="#000" textLength="5.71" lengthAdjust="spacingAndGlyphs">p</text><text x="620.9" y="338.6" font-family="Liberation Sans" font-size="9.6" font-weight="normal" font-style="normal" fill="#000" textLength="4.41" lengthAdjust="spacingAndGlyphs">T</text><text x="621.2" y="326.4" font-family="Liberation Sans" font-size="9" font-weight="normal" font-style="normal" fill="#000" textLength="14.81" lengthAdjust="spacingAndGlyphs">jet 1</text><text x="641" y="334.4" font-family="Liberation Sans" font-size="12.8" font-weight="normal" font-style="normal" fill="#000" textLength="32.22" lengthAdjust="spacingAndGlyphs">[GeV]</text><text x="165" y="347.6" font-family="Liberation Serif" font-size="14.6" font-weight="bold" font-style="normal" fill="#000" textLength="17.12" lengthAdjust="spacingAndGlyphs">(a)</text><text x="516.7" y="347.6" font-family="Liberation Serif" font-size="14.6" font-weight="bold" font-style="normal" fill="#000" textLength="18.23" lengthAdjust="spacingAndGlyphs">(b)</text><text x="57.14" y="32.7" font-family="Liberation Sans" font-size="13.2" font-weight="bold" font-style="italic" fill="#000" textLength="44.25" lengthAdjust="spacingAndGlyphs">ATLAS</text><path d="M58.3,46.6 L59.3,46.0 L61,49.9 L62.3,42.2 H68.2" fill="none" stroke="#222" stroke-width="0.9"/><text x="63" y="49.9" font-family="Liberation Sans" font-size="10.3" font-weight="normal" font-style="normal" fill="#222" textLength="5" lengthAdjust="spacingAndGlyphs">s</text><text x="71.4" y="49.9" font-family="Liberation Sans" font-size="10.3" font-weight="normal" font-style="normal" fill="#222" textLength="78.98" lengthAdjust="spacingAndGlyphs">= 8 TeV, 20.3 fb</text><text x="151.6" y="45.6" font-family="Liberation Sans" font-size="7" font-weight="normal" font-style="normal" fill="#222" textLength="5" lengthAdjust="spacingAndGlyphs">-1</text><text x="57" y="64.4" font-family="Liberation Sans" font-size="10.3" font-weight="bold" font-style="italic" fill="#000" textLength="7.03" lengthAdjust="spacingAndGlyphs">H</text><text x="76.89" y="64.4" font-family="Liberation Sans" font-size="10.3" font-weight="bold" font-style="italic" fill="#000" textLength="14.13" lengthAdjust="spacingAndGlyphs">ZZ</text><text x="104" y="64.4" font-family="Liberation Sans" font-size="10.3" font-weight="normal" font-style="normal" fill="#000" textLength="11.6" lengthAdjust="spacingAndGlyphs">νν</text><text x="117.3" y="64.4" font-family="Liberation Sans" font-size="10.3" font-weight="bold" font-style="italic" fill="#000" textLength="10.72" lengthAdjust="spacingAndGlyphs">qq</text><text x="134" y="64.4" font-family="Liberation Sans" font-size="10.3" font-weight="bold" font-style="italic" fill="#000" textLength="32.4" lengthAdjust="spacingAndGlyphs">0 tags</text><path d="M65.6,61.2 H75 M72.4,59.2 L75,61.2 L72.4,63.2" fill="none" stroke="#444" stroke-width="0.85"/><path d="M92.6,61.2 H102.6 M100,59.2 L102.6,61.2 L100,63.2" fill="none" stroke="#444" stroke-width="0.85"/><text x="57.3" y="79.7" font-family="Liberation Sans" font-size="10.3" font-weight="bold" font-style="italic" fill="#000" textLength="61.89" lengthAdjust="spacingAndGlyphs">W + jets CR</text><text x="214.5" y="29.2" font-family="Liberation Sans" font-size="10.3" font-weight="bold" font-style="normal" fill="#000" textLength="21.73" lengthAdjust="spacingAndGlyphs">Data</text><line x1="195" y1="26.7" x2="211" y2="26.7" stroke="#000" stroke-width="0.9"/><circle cx="203" cy="26.7" r="1.3" fill="#000"/><text x="214.5" y="41.5" font-family="Liberation Sans" font-size="10.3" font-weight="bold" font-style="normal" fill="#000" textLength="25.07" lengthAdjust="spacingAndGlyphs">W+hf</text><rect x="195" y="35.3" width="16" height="8.2" fill="#006600" stroke="#000" stroke-width="0.9"/><text x="214.5" y="53.8" font-family="Liberation Sans" font-size="10.3" font-weight="bold" font-style="normal" fill="#000" textLength="23.72" lengthAdjust="spacingAndGlyphs">W+cl</text><rect x="195" y="47.6" width="16" height="8.2" fill="#66CC66" stroke="#000" stroke-width="0.9"/><text x="214.5" y="66.1" font-family="Liberation Sans" font-size="10.3" font-weight="bold" font-style="normal" fill="#000" textLength="18.71" lengthAdjust="spacingAndGlyphs">W+l</text><rect x="195" y="59.9" width="16" height="8.2" fill="#99FF99" stroke="#000" stroke-width="0.9"/><text x="214.5" y="78.4" font-family="Liberation Sans" font-size="10.3" font-weight="bold" font-style="normal" fill="#000" textLength="15.08" lengthAdjust="spacingAndGlyphs">Z+l</text><rect x="195" y="72.2" width="16" height="8.2" fill="#99CCFF" stroke="#000" stroke-width="0.9"/><text x="214.5" y="90.7" font-family="Liberation Sans" font-size="10.3" font-weight="bold" font-style="normal" fill="#000" textLength="40.7" lengthAdjust="spacingAndGlyphs">Diboson</text><rect x="195" y="84.5" width="16" height="8.2" fill="#FF9933" stroke="#000" stroke-width="0.9"/><text x="214.5" y="103" font-family="Liberation Sans" font-size="10.3" font-weight="bold" font-style="normal" fill="#000" textLength="17.88" lengthAdjust="spacingAndGlyphs">Top</text><rect x="195" y="96.8" width="16" height="8.2" fill="#FFFF66" stroke="#000" stroke-width="0.9"/><text x="214.5" y="115.3" font-family="Liberation Sans" font-size="10.3" font-weight="bold" font-style="normal" fill="#000" textLength="56.32" lengthAdjust="spacingAndGlyphs">Uncertainty</text><rect x="195" y="109.1" width="16" height="8.2" fill="url(#hatchL)" stroke="#000" stroke-width="0.9"/><text x="214.5" y="127.6" font-family="Liberation Sans" font-size="10.3" font-weight="bold" font-style="normal" fill="#000" textLength="92.4" lengthAdjust="spacingAndGlyphs">Pre-fit background</text><line x1="195" y1="125.4" x2="211" y2="125.4" stroke="#C040C0" stroke-width="1.2" stroke-dasharray="1.4,2.2"/><text x="413.14" y="32.7" font-family="Liberation Sans" font-size="13.2" font-weight="bold" font-style="italic" fill="#000" textLength="44.25" lengthAdjust="spacingAndGlyphs">ATLAS</text><path d="M414.3,46.6 L415.3,46.0 L417,49.9 L418.3,42.2 H424.2" fill="none" stroke="#222" stroke-width="0.9"/><text x="419" y="49.9" font-family="Liberation Sans" font-size="10.3" font-weight="normal" font-style="normal" fill="#222" textLength="5" lengthAdjust="spacingAndGlyphs">s</text><text x="427.4" y="49.9" font-family="Liberation Sans" font-size="10.3" font-weight="normal" font-style="normal" fill="#222" textLength="78.98" lengthAdjust="spacingAndGlyphs">= 8 TeV, 20.3 fb</text><text x="507.6" y="45.6" font-family="Liberation Sans" font-size="7" font-weight="normal" font-style="normal" fill="#222" textLength="5" lengthAdjust="spacingAndGlyphs">-1</text><text x="413" y="64.4" font-family="Liberation Sans" font-size="10.3" font-weight="bold" font-style="italic" fill="#000" textLength="7.03" lengthAdjust="spacingAndGlyphs">H</text><text x="432.89" y="64.4" font-family="Liberation Sans" font-size="10.3" font-weight="bold" font-style="italic" fill="#000" textLength="14.13" lengthAdjust="spacingAndGlyphs">ZZ</text><text x="460" y="64.4" font-family="Liberation Sans" font-size="10.3" font-weight="normal" font-style="normal" fill="#000" textLength="11.6" lengthAdjust="spacingAndGlyphs">νν</text><text x="473.3" y="64.4" font-family="Liberation Sans" font-size="10.3" font-weight="bold" font-style="italic" fill="#000" textLength="10.72" lengthAdjust="spacingAndGlyphs">qq</text><text x="490" y="64.4" font-family="Liberation Sans" font-size="10.3" font-weight="bold" font-style="italic" fill="#000" textLength="32.4" lengthAdjust="spacingAndGlyphs">0 tags</text><path d="M421.6,61.2 H431 M428.4,59.2 L431,61.2 L428.4,63.2" fill="none" stroke="#444" stroke-width="0.85"/><path d="M448.6,61.2 H458.6 M456,59.2 L458.6,61.2 L456,63.2" fill="none" stroke="#444" stroke-width="0.85"/><text x="413.3" y="79.7" font-family="Liberation Sans" font-size="10.3" font-weight="bold" font-style="italic" fill="#000" textLength="61.89" lengthAdjust="spacingAndGlyphs">W + jets CR</text><text x="570.5" y="29.2" font-family="Liberation Sans" font-size="10.3" font-weight="bold" font-style="normal" fill="#000" textLength="21.73" lengthAdjust="spacingAndGlyphs">Data</text><line x1="551" y1="26.7" x2="567" y2="26.7" stroke="#000" stroke-width="0.9"/><circle cx="559" cy="26.7" r="1.3" fill="#000"/><text x="570.5" y="41.5" font-family="Liberation Sans" font-size="10.3" font-weight="bold" font-style="normal" fill="#000" textLength="25.07" lengthAdjust="spacingAndGlyphs">W+hf</text><rect x="551" y="35.3" width="16" height="8.2" fill="#006600" stroke="#000" stroke-width="0.9"/><text x="570.5" y="53.8" font-family="Liberation Sans" font-size="10.3" font-weight="bold" font-style="normal" fill="#000" textLength="23.72" lengthAdjust="spacingAndGlyphs">W+cl</text><rect x="551" y="47.6" width="16" height="8.2" fill="#66CC66" stroke="#000" stroke-width="0.9"/><text x="570.5" y="66.1" font-family="Liberation Sans" font-size="10.3" font-weight="bold" font-style="normal" fill="#000" textLength="18.71" lengthAdjust="spacingAndGlyphs">W+l</text><rect x="551" y="59.9" width="16" height="8.2" fill="#99FF99" stroke="#000" stroke-width="0.9"/><text x="570.5" y="78.4" font-family="Liberation Sans" font-size="10.3" font-weight="bold" font-style="normal" fill="#000" textLength="15.08" lengthAdjust="spacingAndGlyphs">Z+l</text><rect x="551" y="72.2" width="16" height="8.2" fill="#99CCFF" stroke="#000" stroke-width="0.9"/><text x="570.5" y="90.7" font-family="Liberation Sans" font-size="10.3" font-weight="bold" font-style="normal" fill="#000" textLength="40.7" lengthAdjust="spacingAndGlyphs">Diboson</text><rect x="551" y="84.5" width="16" height="8.2" fill="#FF9933" stroke="#000" stroke-width="0.9"/><text x="570.5" y="103" font-family="Liberation Sans" font-size="10.3" font-weight="bold" font-style="normal" fill="#000" textLength="17.88" lengthAdjust="spacingAndGlyphs">Top</text><rect x="551" y="96.8" width="16" height="8.2" fill="#FFFF66" stroke="#000" stroke-width="0.9"/><text x="570.5" y="115.3" font-family="Liberation Sans" font-size="10.3" font-weight="bold" font-style="normal" fill="#000" textLength="56.32" lengthAdjust="spacingAndGlyphs">Uncertainty</text><rect x="551" y="109.1" width="16" height="8.2" fill="url(#hatchL)" stroke="#000" stroke-width="0.9"/><text x="570.5" y="127.6" font-family="Liberation Sans" font-size="10.3" font-weight="bold" font-style="normal" fill="#000" textLength="92.4" lengthAdjust="spacingAndGlyphs">Pre-fit background</text><line x1="551" y1="125.4" x2="567" y2="125.4" stroke="#C040C0" stroke-width="1.2" stroke-dasharray="1.4,2.2"/><line x1="412.3" y1="281.5" x2="412.3" y2="299" stroke="#7a9a8a" stroke-width="0.9" stroke-dasharray="1.6,1.4"/></svg></body></html>
